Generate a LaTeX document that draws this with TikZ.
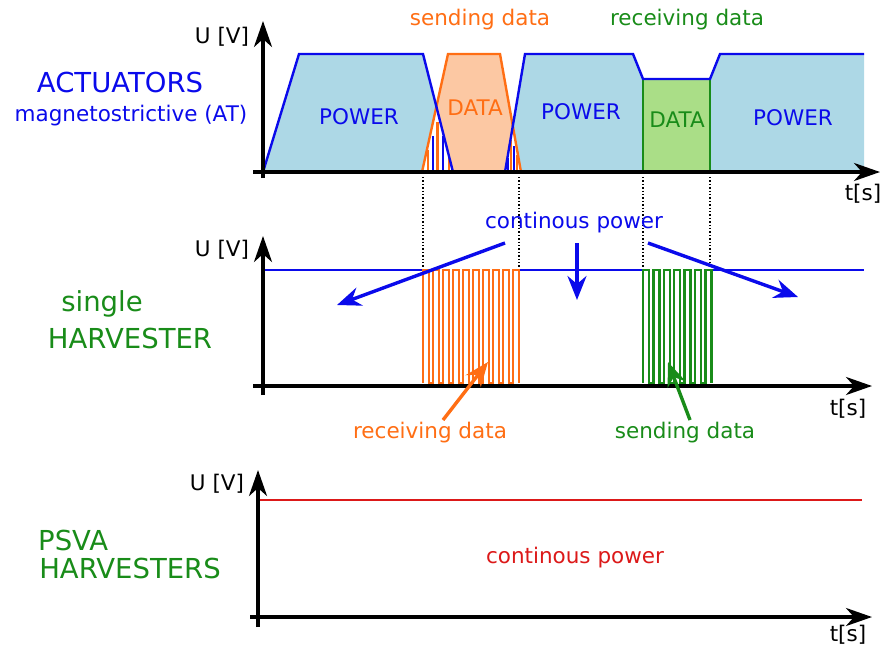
\documentclass[tikz,border=0pt]{standalone}
\usepackage{fontspec}
\setmainfont{DejaVu Sans}
\usetikzlibrary{arrows.meta}
\definecolor{cblue}{RGB}{10,10,235}
\definecolor{corange}{RGB}{255,110,20}
\definecolor{cgreen}{RGB}{25,140,25}
\definecolor{cred}{RGB}{220,25,25}
\definecolor{fblue}{RGB}{173,216,230}
\definecolor{fpeach}{RGB}{252,200,163}
\definecolor{fgreen}{RGB}{170,222,135}
\begin{document}
\begin{tikzpicture}[x=1pt,y=-1pt,
  axis/.style={line width=3.4pt,-{Stealth[length=26pt,width=18pt,inset=8pt]}},
  lbl/.style={font=\fontsize{21.5}{24}\selectfont,inner sep=0pt,anchor=base},
  big/.style={font=\fontsize{27.5}{30}\selectfont,inner sep=0pt,anchor=base},
  ptr/.style={line width=3.4pt,-{Stealth[length=24pt,width=19pt,inset=8pt]}},
  wave/.style={line width=2.4pt,line join=miter},
  dots/.style={dotted,line width=1.4pt},
  outl/.style={line width=2.4pt,line join=miter},
  bar/.style={line width=2.2pt}
]
\useasboundingbox (0,0) rectangle (885,654);

% ---------- top chart ----------
\fill[fblue] (263,172) -- (299,54) -- (423,54) -- (453,172) -- (505,172) -- (525,54)
  -- (633,54) -- (643,79) -- (710,79) -- (720,54) -- (864,54) -- (864,172) -- cycle;
\fill[fpeach] (422,172) -- (448,54) -- (500,54) -- (521,172) -- cycle;
\fill[white] (422,172) -- (436.4,106.7) -- (453,172) -- cycle;
\fill[white] (505,172) -- (512.8,126) -- (521,172) -- cycle;
\filldraw[fill=fgreen,draw=cgreen,outl] (643,172) -- (643,79) -- (710,79) -- (710,172);
% switching bars
\draw[corange,bar] (428,172) -- (428,150);
\draw[cblue,bar] (433,172) -- (433,136);
\draw[corange,bar] (437.5,172) -- (437.5,122);
\draw[cblue,bar] (443,172) -- (443,136);
\draw[corange,bar] (449,172) -- (449,158);
\draw[cblue,bar] (508,172) -- (508,158);
\draw[corange,bar] (511,172) -- (511,140);
\draw[cblue,bar] (514,172) -- (514,146);
\draw[corange,bar] (517,172) -- (517,155);
% outlines
\draw[corange,outl] (422,172) -- (448,54) -- (500,54) -- (521,172);
\draw[cblue,outl] (263,172) -- (299,54) -- (423,54) -- (453,172) -- (505,172) -- (525,54)
  -- (633,54) -- (643,79) -- (710,79) -- (720,54) -- (864,54);

\coordinate (ta0) at (253,172);
\coordinate (ta1) at (880,172);
\coordinate (tb0) at (263,178);
\coordinate (tb1) at (263,21);
\draw[axis] (ta0) -- (ta1);
\draw[axis] (tb0) -- (tb1);

\node[lbl] (tU) at (222,43) {U [V]};
\node[lbl] (tT) at (863,200) {t[s]};
\node[lbl,corange] (tSend) at (480,25) {sending data};
\node[lbl,cgreen] (tRecv) at (687,25) {receiving data};
\node[lbl,cblue] (p1) at (359,124) {POWER};
\node[lbl,corange] (d1) at (475,115) {DATA};
\node[lbl,cblue] (p2) at (581,119) {POWER};
\node[lbl,cgreen] (d2) at (677,127) {DATA};
\node[lbl,cblue] (p3) at (793,125) {POWER};
\node[big,cblue] (act) at (120,92) {ACTUATORS};
\node[lbl,cblue] (mag) at (131,121) {magnetostrictive (AT)};

% dotted guides
\foreach \x/\n in {423/a,519/b,643/c,710/d}{
  \coordinate (g\n0) at (\x,177);
  \coordinate (g\n1) at (\x,268);
  \draw[dots] (g\n0) -- (g\n1);
}

% ---------- middle chart ----------
\draw[cblue,line width=1.8pt] (263,270) -- (423,270);
\draw[cblue,line width=1.8pt] (519,270) -- (643,270);
\draw[cblue,line width=1.8pt] (711,270) -- (864,270);
\draw[corange,wave] (423,383) foreach \i in {1,...,9}{ -- ++(0,-113) -- ++(5.8,0) -- ++(0,113) -- ++(4.2,0) }
  -- ++(0,-113) -- ++(5.8,0) -- ++(0,113);
\draw[cgreen,wave] (643,383) foreach \i in {1,...,6}{ -- ++(0,-113) -- ++(6,0) -- ++(0,113) -- ++(4.4,0) }
  -- ++(0,-113) -- ++(6,0) -- ++(0,113);

\coordinate (ma0) at (253,386);
\coordinate (ma1) at (872,386);
\coordinate (mb0) at (263,395);
\coordinate (mb1) at (263,236);
\draw[axis] (ma0) -- (ma1);
\draw[axis] (mb0) -- (mb1);

\node[lbl] (mU) at (222,256) {U [V]};
\node[lbl] (mT) at (848,415) {t[s]};
\node[lbl,cblue] (cp) at (574,228) {continous power};
\node[big,cgreen] (sing) at (102,311) {single};
\node[big,cgreen] (harv) at (130,348) {HARVESTER};
\node[lbl,corange] (mRecv) at (430,438) {receiving data};
\node[lbl,cgreen] (mSend) at (685,438) {sending data};

\coordinate (b1s) at (505,243);
\coordinate (b1e) at (337,305);
\coordinate (b2s) at (577,243);
\coordinate (b2e) at (577,300);
\coordinate (b3s) at (648,243);
\coordinate (b3e) at (798,297);
\coordinate (os) at (443,420);
\coordinate (oe) at (488,362);
\coordinate (gs) at (690,420);
\coordinate (ge) at (668,362);
\draw[ptr,cblue] (b1s) -- (b1e);
\draw[ptr,cblue] (b2s) -- (b2e);
\draw[ptr,cblue] (b3s) -- (b3e);
\draw[ptr,corange] (os) -- (oe);
\draw[ptr,cgreen] (gs) -- (ge);

% ---------- bottom chart ----------
\draw[cred,line width=2.2pt] (258,500) -- (862,500);
\coordinate (ba0) at (250,617);
\coordinate (ba1) at (872,617);
\coordinate (bb0) at (258,627);
\coordinate (bb1) at (258,470);
\draw[axis] (ba0) -- (ba1);
\draw[axis] (bb0) -- (bb1);

\node[lbl] (bU) at (217,490) {U [V]};
\node[lbl] (bT) at (848,641) {t[s]};
\node[lbl,cred] (bcp) at (575,563) {continous power};
\node[big,cgreen,anchor=base west] (psva) at (38,550) {PSVA};
\node[big,cgreen] (harvs) at (130,578) {HARVESTERS};
\end{tikzpicture}
\end{document}
